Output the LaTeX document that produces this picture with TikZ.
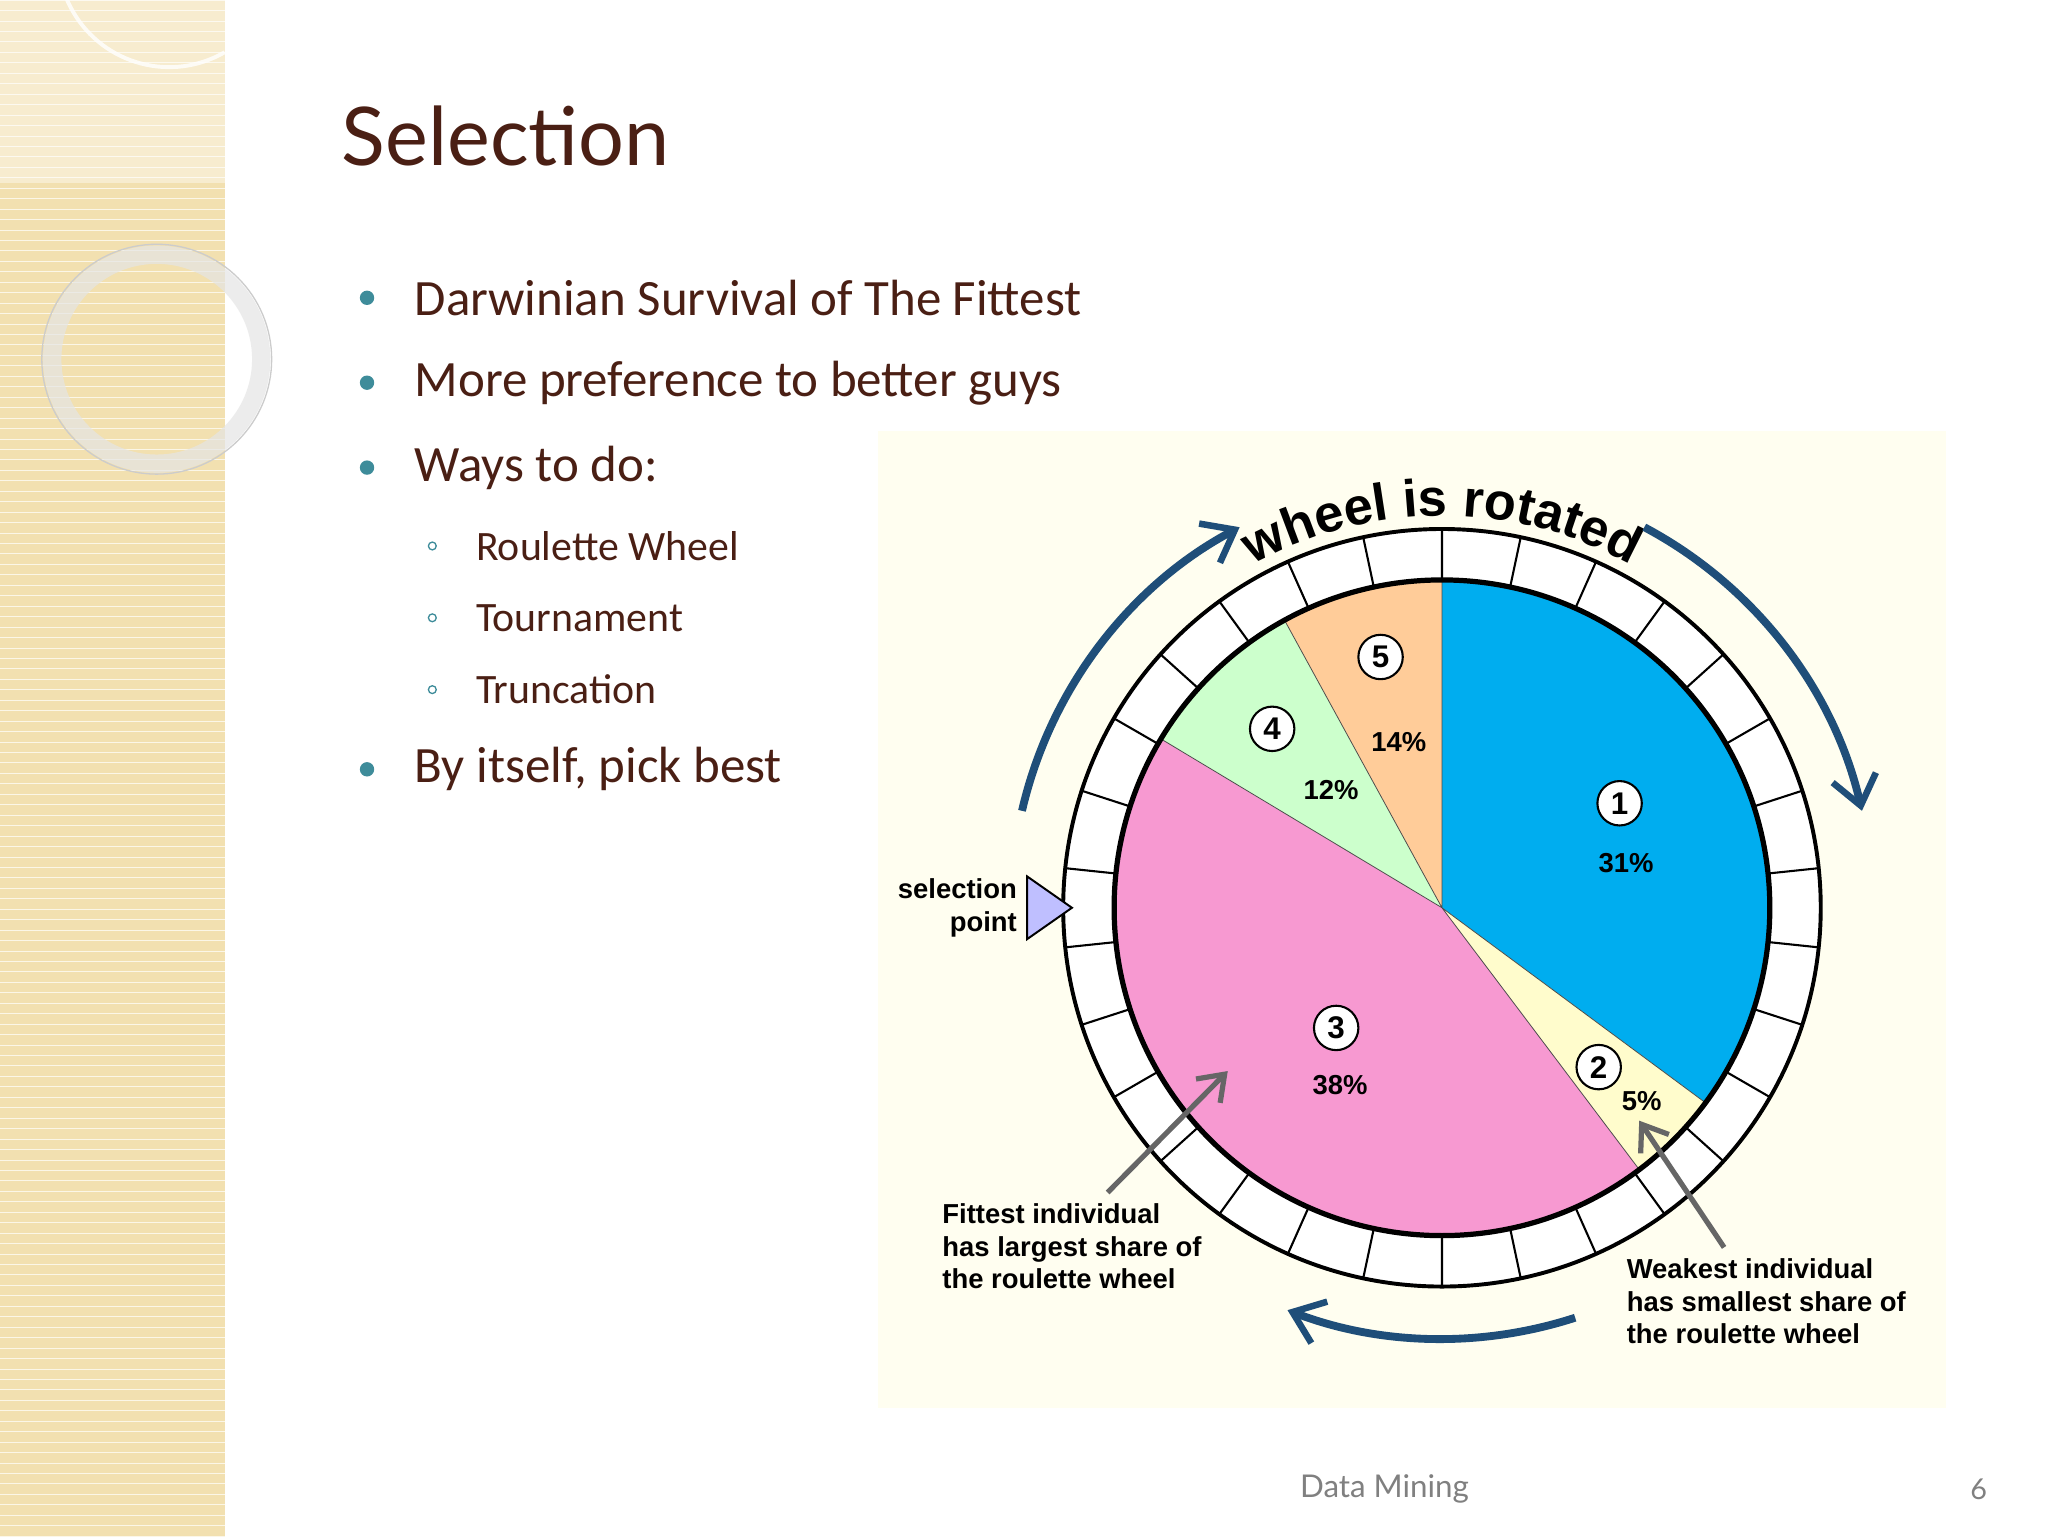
\documentclass[tikz,border=0pt]{standalone}
\usepackage{fontspec}
\setmainfont{Carlito}
\newfontfamily\arl{Liberation Sans}
\newfontfamily\ttl{Lato}
\usetikzlibrary{decorations.text,arrows.meta,calc,shapes.geometric}
\definecolor{brn}{HTML}{4A1F14}
\definecolor{bul}{HTML}{3E8C9A}
\definecolor{strip}{HTML}{F2E0B0}
\definecolor{arrb}{HTML}{1F4E79}
\tikzset{
 bodytxt/.style={anchor=west,text=brn,font=\fontsize{39}{40}\selectfont},
 subtxt/.style={anchor=west,text=brn,font=\fontsize{32}{33}\selectfont},
 bulletdot/.style={circle,fill=bul,inner sep=0pt,minimum size=11pt},
 subbul/.style={circle,draw=bul,line width=1pt,inner sep=0pt,minimum size=6pt},
 num/.style={circle,draw=black,line width=1.6pt,fill=white,inner sep=0pt,minimum size=34pt,font=\arl\bfseries\fontsize{24}{24}\selectfont},
 pct/.style={font=\arl\bfseries\fontsize{21}{21}\selectfont},
 lbl/.style={align=left,font=\arl\bfseries\fontsize{21}{25}\selectfont},
 rot/.style={arrb,line width=6pt,-{Straight Barb[length=22pt,width=34pt,line width=5pt]}},
 gar/.style={gray!80!black,line width=4pt,-{Straight Barb[length=18pt,width=26pt,line width=4pt]}}
}
\begin{document}
\begin{tikzpicture}[x=1pt,y=-1pt]
\useasboundingbox (0,0) rectangle (1568,1176);
\fill[white] (0,0) rectangle (1568,1176);
\fill[strip] (0,0) rectangle (172,1176);
\draw[white!70!strip,line width=0.5pt] foreach \i in {0,8,...,1176} {(0,\i) -- (172,\i)};
\fill[white,opacity=0.4] (0,0) rectangle (172,140);
\draw[white,line width=3pt,opacity=0.8] (172,40) arc[start angle=60,end angle=250,radius=85];
\draw[white!80!gray,line width=14pt,opacity=0.7] (120,275) circle[radius=80];
\draw[gray!40,line width=1pt] (120,275) circle[radius=88];
% slide text
\node[anchor=west,text=brn,font=\ttl\fontsize{62}{64}\selectfont] (title) at (258,104) {Selection};
\foreach \y/\t [count=\k] in {228/Darwinian Survival of The Fittest,293/More preference to better guys,358/Ways to do:,589/{By itself, pick best}}{
 \node[bulletdot] (b\k) at (281,\y) {};
 \node[bodytxt] (t\k) at (314,\y) {\t};
}
\foreach \y/\t [count=\k] in {418/Roulette Wheel,473/Tournament,528/Truncation}{
 \node[subbul] (s\k) at (331,\y) {};
 \node[subtxt] (u\k) at (361,\y) {\t};
}
\node[text=gray,font=\ttl\fontsize{24}{24}\selectfont] (foot) at (1060,1140) {Data Mining};
\node[text=gray,font=\ttl\fontsize{22}{22}\selectfont] (pg) at (1515,1140) {6};
% wheel background
\fill[yellow!6] (672,330) rectangle (1490,1078);
\coordinate (c) at (1104,695);
% pie (angles negated: y axis points down)
\fill[cyan] (c) -- ++(-90:250) arc[start angle=-90,end angle=36.5,radius=250] -- cycle;
\fill[yellow!20] (c) -- ++(36.5:250) arc[start angle=36.5,end angle=53,radius=250] -- cycle;
\fill[magenta!40] (c) -- ++(53:250) arc[start angle=53,end angle=211,radius=250] -- cycle;
\fill[green!20] (c) -- ++(211:250) arc[start angle=211,end angle=241.3,radius=250] -- cycle;
\fill[orange!40] (c) -- ++(241.3:250) arc[start angle=241.3,end angle=270,radius=250] -- cycle;
\draw[black!70,line width=0.6pt] foreach \a in {-90,36.5,53,211,241.3} {(c) -- ++(\a:250)};
% ring
\fill[white,even odd rule] (c) circle[radius=290] (c) circle[radius=250];
\draw[line width=1.6pt] foreach \i in {0,...,29} {($(c)+(90+12*\i:252)$) -- ($(c)+(90+12*\i:290)$)};
\draw[line width=3pt] (c) circle[radius=290];
\draw[line width=4pt] (c) circle[radius=251];
% numbers
\node[num] (n1) at (1240,615) {1};
\node[pct] (p1) at (1245,661) {31\%};
\node[num] (n2) at (1224,817) {2};
\node[pct] (p2) at (1257,843) {5\%};
\node[num] (n3) at (1023,787) {3};
\node[pct] (p3) at (1026,831) {38\%};
\node[num] (n4) at (974,558) {4};
\node[pct] (p4) at (1019,605) {12\%};
\node[num] (n5) at (1057,503) {5};
\node[pct] (p5) at (1071,568) {14\%};
% text along arc
\begin{scope}[shift={(c)},yscale=-1]
\path[decorate,decoration={text effects along path,text={wheel is rotated},text align=center,
 text effects/.cd,text along path,
 characters={text=black,font=\arl\bfseries\fontsize{40}{40}\selectfont}}]
 (148:300) arc[start angle=148,end angle=32,radius=300];
\end{scope}
% rotation arrows
\draw[rot] ($(c)+(-167:330)$) arc[start angle=-167,end angle=-118,radius=330];
\draw[rot] ($(c)+(-62:330)$) arc[start angle=-62,end angle=-13,radius=330];
\draw[rot] ($(c)+(72:330)$) arc[start angle=72,end angle=111,radius=330];
% selection point
\node[draw=black,line width=1.5pt,fill=blue!25,isosceles triangle,isosceles triangle apex angle=70,inner sep=0pt,minimum height=32pt,minimum width=48pt,anchor=apex] (sp) at (822,695) {};
\node[lbl,align=right,anchor=east] (spl) at (782,695) {selection\\point};
% labels
\node[lbl,anchor=north west] (fit) at (718,918) {Fittest individual\\has largest share of\\the roulette wheel};
\node[lbl,anchor=north west] (weak) at (1242,960) {Weakest individual\\has smallest share of\\the roulette wheel};
\coordinate (fa) at (940,820);
\coordinate (wa) at (1255,858);
\draw[gar] ($(fit.north west)+(130,-5)$) -- (fa);
\draw[gar] ($(weak.north west)+(78,-5)$) -- (wa);
\end{tikzpicture}
\end{document}
